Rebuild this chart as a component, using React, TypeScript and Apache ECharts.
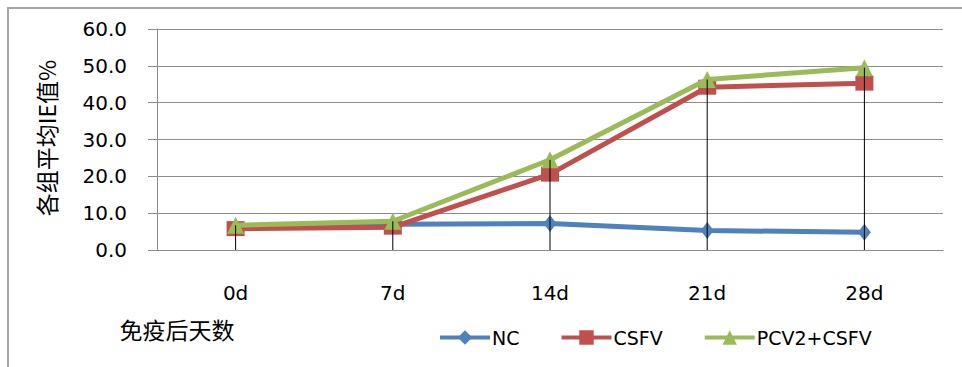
import React, { useEffect, useRef } from "react";
import * as echarts from "echarts";

const categories = ["0d", "7d", "14d", "21d", "28d"];
const ncValues = [6.2, 7.0, 7.2, 5.3, 4.8];
const csfvValues = [5.8, 6.2, 20.6, 44.2, 45.3];
const pcvCsfvValues = [6.7, 7.8, 24.5, 46.3, 49.5];
const yTicks = { min: 0, max: 60, interval: 10 };
const yAxisTitle = "各组平均IE值%";
const xAxisTitle = "免疫后天数";

export default function App() {
  const ref = useRef<HTMLDivElement>(null);
  useEffect(() => {
    if (!ref.current) return;
    const chart = echarts.init(ref.current, undefined, { renderer: "svg" });
    const dropData = categories.map((_, i) => [
      i,
      Math.max(ncValues[i], csfvValues[i], pcvCsfvValues[i]),
    ]);
    const gray = "#8c8c8c";
    const latin = "DejaVu Sans";
    chart.setOption({
      animation: false,
      backgroundColor: "#ffffff",
      grid: { left: 157, right: 19, top: 29, bottom: 117, containLabel: false },
      xAxis: {
        type: "category",
        data: categories,
        boundaryGap: true,
        axisLine: { show: true, lineStyle: { color: gray, width: 1 } },
        axisTick: { show: false },
        axisLabel: {
          color: "#000",
          fontFamily: latin,
          fontSize: 20,
          margin: 33,
        },
        splitLine: { show: false },
      },
      yAxis: {
        type: "value",
        min: yTicks.min,
        max: yTicks.max,
        interval: yTicks.interval,
        axisLine: { show: true, lineStyle: { color: gray, width: 1 } },
        axisTick: { show: true, inside: false, length: 9, lineStyle: { color: gray } },
        axisLabel: {
          color: "#000",
          fontFamily: latin,
          fontSize: 20,
          margin: 30,
          formatter: (v: number) => v.toFixed(1),
        },
        splitLine: { show: true, lineStyle: { color: gray, width: 1 } },
      },
      legend: {
        data: ["NC", "CSFV", "PCV2+CSFV"],
        left: 433,
        top: 323,
        itemWidth: 50,
        itemHeight: 18,
        itemGap: 40,
        lineStyle: { width: 4 },
        textStyle: { color: "#000", fontFamily: latin, fontSize: 19, padding: [0, 0, 0, -3] },
      },
      graphic: [
        {
          type: "rect",
          shape: { x: 8, y: 8, width: 1000, height: 400 },
          style: { fill: "none", stroke: "#a6a6a6", lineWidth: 2 },
          silent: true,
          z: -10,
        },
        {
          type: "text",
          x: 46,
          y: 138,
          rotation: Math.PI / 2,
          style: {
            text: yAxisTitle,
            fontFamily: "Noto Sans CJK SC",
            fontSize: 23,
            fill: "#000",
            align: "center",
            verticalAlign: "middle",
          },
        },
        {
          type: "text",
          x: 177,
          y: 329,
          style: {
            text: xAxisTitle,
            fontFamily: "Noto Sans CJK SC",
            fontSize: 23,
            fill: "#000",
            align: "center",
            verticalAlign: "middle",
          },
        },
      ],
      series: [
        {
          name: "NC",
          type: "line",
          data: ncValues,
          symbol: "diamond",
          symbolSize: [13, 17],
          color: "#4F81BD",
          lineStyle: { width: 5, color: "#4F81BD" },
          itemStyle: { color: "#4F81BD" },
          z: 2,
        },
        {
          name: "CSFV",
          type: "line",
          data: csfvValues,
          symbol: "rect",
          symbolSize: [18, 15],
          color: "#C0504D",
          lineStyle: { width: 5, color: "#C0504D" },
          itemStyle: { color: "#C0504D" },
          z: 3,
        },
        {
          name: "PCV2+CSFV",
          type: "line",
          data: pcvCsfvValues,
          symbol: "triangle",
          symbolSize: [17, 17],
          color: "#9BBB59",
          lineStyle: { width: 5, color: "#9BBB59" },
          itemStyle: { color: "#9BBB59" },
          z: 4,
        },
        {
          name: "drop",
          type: "custom",
          data: dropData,
          z: 5,
          silent: true,
          renderItem: (params: any, api: any) => {
            const x = api.value(0);
            const top = api.coord([x, api.value(1)]);
            const bot = api.coord([x, 0]);
            return {
              type: "line",
              shape: { x1: top[0], y1: top[1], x2: bot[0], y2: bot[1] },
              style: { stroke: "#000", lineWidth: 1 },
            };
          },
        },
      ],
    });
    return () => chart.dispose();
  }, []);
  return (
    <div
      ref={ref}
      style={{ position: "fixed", left: 0, top: 0, width: 962, height: 367 }}
    />
  );
}
